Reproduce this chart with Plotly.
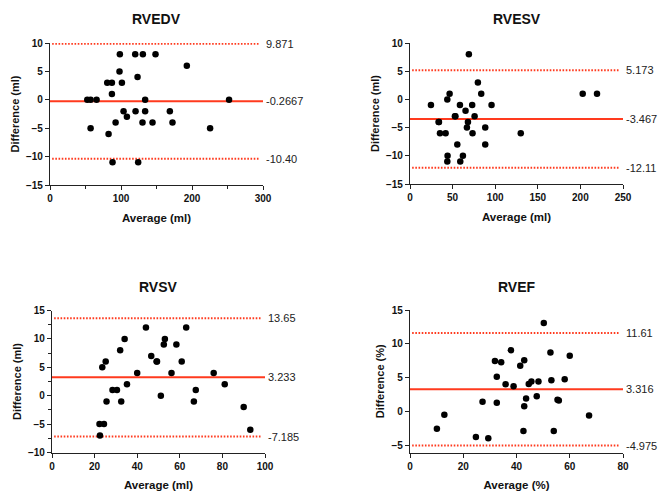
import plotly.graph_objects as go

# ---- data ----
titles = ["RVEDV", "RVESV", "RVSV", "RVEF"]
x_titles = ["Average (ml)", "Average (ml)", "Average (ml)", "Average (%)"]
y_titles = ["Difference (ml)", "Difference (ml)", "Difference (ml)", "Difference (%)"]

rvedv_avg = [52.5, 57.2, 65.6, 57.2, 80.6, 87.2, 87.2, 82.5, 88.1, 92.4, 97.9, 98.4, 101.3, 103.6, 108.3,
             120.0, 120.5, 123.3, 124.2, 130.8, 130.3, 134.0, 134.0, 144.4, 148.6, 168.8, 172.5, 192.7, 225.5, 252.2]
rvedv_diff = [0, 0, 0, -5, 3, 3, 1, -6, -11, -4, 5, 8, 3, -2, -3,
              8, -2, 4, -11, 8, -4, 0, -2, -4, 8, -2, -4, 6, -5, 0]

rvesv_avg = [24.6, 33.6, 34.0, 35.2, 41.8, 43.8, 46.5, 44.1, 43.8, 52.7, 53.3, 55.5, 58.6, 59.0, 62.1,
             65.2, 66.8, 68.0, 69.1, 73.0, 73.4, 75.8, 79.7, 83.6, 88.3, 88.3, 95.7, 130.0, 202.7, 219.5]
rvesv_diff = [-1, -4, -4, -6, -6, 0, 1, -10, -11, -3, -3, -8, -1, -11, -10,
              -2, -5, -4, 8, -1, -6, -3, 3, 1, -5, -8, -1, -6, 1, 1]

rvsv_avg = [22.3, 22.5, 23.6, 24.4, 25.2, 25.6, 28.4, 30.5, 32.0, 32.5, 34.1, 35.2, 40.0, 44.1, 46.6,
            49.1, 49.3, 51.1, 52.5, 53.0, 56.1, 58.4, 60.9, 63.0, 66.6, 67.5, 75.9, 81.1, 90.0, 93.1]
rvsv_diff = [-5, -7, 5, -5, 6, -1, 1, 1, 8, -1, 10, 2, 4, 12, 7,
             6, 6, 0, 9, 10, 4, 9, 6, 12, -1, 1, 4, 2, -2, -6]

rvef_avg = [10.1, 12.9, 24.75, 27.25, 29.4, 31.9, 32.6, 32.6, 34.25, 35.9, 37.9, 38.9, 41.4, 42.9, 42.9,
            42.6, 43.6, 44.6, 45.6, 48.25, 47.6, 50.25, 52.75, 53.1, 54.0, 55.4, 55.9, 58.1, 60.0, 67.25]
rvef_diff = [-2.5, -0.44, -3.73, 1.47, -3.9, 7.5, 5.15, 1.32, 7.3, 4.07, 9.07, 3.78, 6.8, 7.6, 0.83,
             -2.84, 1.96, 4.1, 4.46, 4.46, 2.3, 13.1, 8.73, 4.66, -2.84, 1.76, 1.66, 4.8, 8.24, -0.54]

bias = [-0.2667, -3.467, 3.233, 3.316]
upper_loa = [9.871, 5.173, 13.65, 11.61]
lower_loa = [-10.40, -12.11, -7.185, -4.975]
bias_txt = ["-0.2667", "-3.467", "3.233", "3.316"]
upper_txt = ["9.871", "5.173", "13.65", "11.61"]
lower_txt = ["-10.40", "-12.11", "-7.185", "-4.975"]

x_ranges = [[0, 300], [0, 250], [0, 100], [0, 80]]
y_ranges = [[-15, 10], [-15, 10], [-10, 15], [-6, 15]]
x_dticks = [100, 50, 20, 20]
y_dticks = [5, 5, 5, 5]

avgs = [rvedv_avg, rvesv_avg, rvsv_avg, rvef_avg]
diffs = [rvedv_diff, rvesv_diff, rvsv_diff, rvef_diff]

# ---- layout geometry (pixels -> paper fractions) ----
W, H = 658, 493
px_x = [(50, 263), (410, 623), (52, 265), (410, 623)]
px_y = [(43, 185), (43, 184), (310.5, 452.5), (310, 452.5)]

RED = "#ff3a1e"
AXC = "#222222"
FONT = "Liberation Sans, Arial, Helvetica, sans-serif"

fig = go.Figure()
annotations = []

for i in range(4):
    xa = "x" if i == 0 else f"x{i+1}"
    ya = "y" if i == 0 else f"y{i+1}"
    xmax = x_ranges[i][1]
    # limits of agreement (dotted)
    for val in (upper_loa[i], lower_loa[i]):
        fig.add_trace(go.Scatter(x=[0.01 * xmax, 0.985 * xmax], y=[val, val], mode="lines",
                                 line=dict(color=RED, width=2, dash="1.6px,1.6px"),
                                 xaxis=xa, yaxis=ya, showlegend=False, hoverinfo="skip"))
    # bias (solid)
    fig.add_trace(go.Scatter(x=[0, xmax], y=[bias[i], bias[i]], mode="lines",
                             line=dict(color=RED, width=2),
                             xaxis=xa, yaxis=ya, showlegend=False, hoverinfo="skip"))
    # points
    fig.add_trace(go.Scatter(x=avgs[i], y=diffs[i], mode="markers",
                             marker=dict(color="black", size=6.5),
                             xaxis=xa, yaxis=ya, showlegend=False, cliponaxis=False))

    x0, x1 = px_x[i]
    yt, yb = px_y[i]
    xdom = [x0 / W, x1 / W]
    ydom = [1 - yb / H, 1 - yt / H]
    minor_x = dict(ticks="outside", ticklen=2.5, dtick=50, tickcolor=AXC, tickwidth=1.2) if i == 0 else None
    minor_y = dict(ticks="outside", ticklen=2.5, dtick=2.5, tickcolor=AXC, tickwidth=1.2) if i == 2 else None
    xaxis = dict(domain=xdom, range=x_ranges[i], dtick=x_dticks[i], tick0=0, automargin=False,
                 showgrid=False, zeroline=False, showline=True, linecolor=AXC, linewidth=1.3,
                 ticks="outside", ticklen=4, tickwidth=1.2, tickcolor=AXC,
                 tickfont=dict(family=FONT, size=10, color="#111", weight="bold"),
                 title=dict(text=x_titles[i], font=dict(family=FONT, size=11.5, color="#111", weight="bold"),
                            standoff=10),
                 anchor=ya, fixedrange=True)
    if minor_x:
        xaxis["minor"] = minor_x
    yaxis = dict(domain=ydom, range=y_ranges[i], dtick=y_dticks[i], tick0=0, automargin=False,
                 showgrid=False, zeroline=False, showline=True, linecolor=AXC, linewidth=1.3,
                 ticks="outside", ticklen=4, tickwidth=1.2, tickcolor=AXC,
                 tickfont=dict(family=FONT, size=10, color="#111", weight="bold"),
                 title=dict(text=y_titles[i], font=dict(family=FONT, size=11, color="#111", weight="bold"),
                            standoff=4),
                 anchor=xa, fixedrange=True)
    if minor_y:
        yaxis["minor"] = minor_y
    key = "" if i == 0 else str(i + 1)
    fig.layout["xaxis" + key] = xaxis
    fig.layout["yaxis" + key] = yaxis

    # value labels on the right
    for val, txt in ((upper_loa[i], upper_txt[i]), (bias[i], bias_txt[i]), (lower_loa[i], lower_txt[i])):
        annotations.append(dict(x=xmax, y=val, xref=xa, yref=ya, text=txt, showarrow=False,
                                xanchor="left", yanchor="middle", xshift=1,
                                font=dict(family=FONT, size=11, color="#222")))
    # panel title
    annotations.append(dict(x=(x0 + x1) / 2 / W, y=1 - (19 if i < 2 else 287) / H,
                            xref="paper", yref="paper", text=titles[i], showarrow=False,
                            xanchor="center", yanchor="middle",
                            font=dict(family=FONT, size=14, color="#111", weight="bold")))

fig.update_layout(width=W, height=H, margin=dict(l=0, r=0, t=0, b=0, autoexpand=False),
                  paper_bgcolor="white", plot_bgcolor="white",
                  annotations=annotations, showlegend=False)

fig.write_html("out.html", config={"displayModeBar": False},
               post_script="document.body.style.margin='0';document.body.style.overflow='hidden';")
